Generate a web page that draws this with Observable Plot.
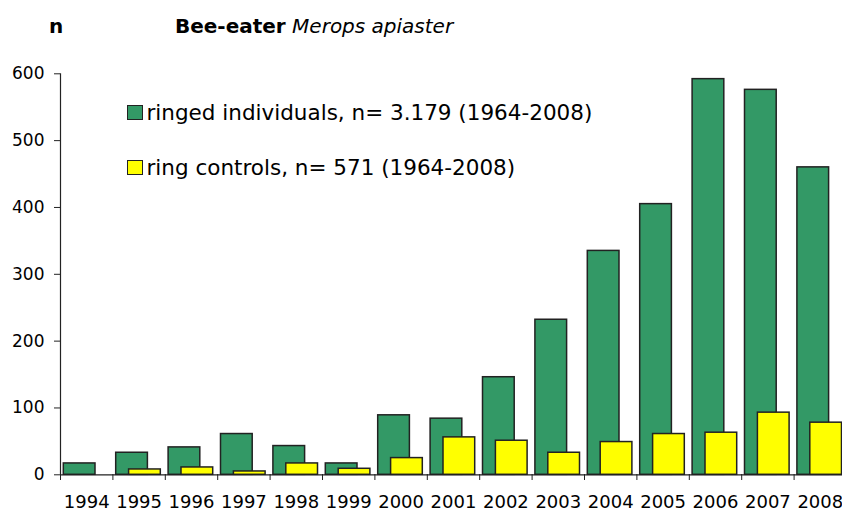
<!DOCTYPE html>
<html>
<head>
<meta charset="utf-8">
<script src="https://cdn.jsdelivr.net/npm/d3@7"></script>
<script src="https://cdn.jsdelivr.net/npm/@observablehq/plot@0.6"></script>
<style>
  html, body { margin: 0; padding: 0; background: #fff; }
  #wrap { position: relative; width: 842px; height: 513px; overflow: hidden; font-family: "DejaVu Sans", sans-serif; color: #000; }
  #chart { position: absolute; left: 0; top: 0; }
  .abs { position: absolute; white-space: nowrap; line-height: 1; }
  .sw { position: absolute; width: 14px; height: 13px; border: 1.2px solid #222; }
</style>
</head>
<body>
<div id="wrap">
  <div id="chart"></div>
  <div class="abs" style="left:49px; top:15.8px; font-size:20px; font-weight:bold;">n</div>
  <div class="abs" style="left:175px; top:15.8px; font-size:20px;"><b>Bee-eater</b> <i>Merops apiaster</i></div>
  <div class="sw" style="left:127.3px; top:105px; background:#339966;"></div>
  <div class="abs" style="left:146.5px; top:101.8px; font-size:21.5px;">ringed individuals, n= 3.179 (1964-2008)</div>
  <div class="sw" style="left:127.3px; top:160px; background:#ffff00;"></div>
  <div class="abs" style="left:146.5px; top:156.8px; font-size:21.5px;">ring controls, n= 571 (1964-2008)</div>
</div>
<script>
const years = [1994, 1995, 1996, 1997, 1998, 1999, 2000, 2001, 2002, 2003, 2004, 2005, 2006, 2007, 2008];
const ringed = [17, 33, 41, 61, 43, 17, 89, 84, 146, 232, 335, 405, 592, 576, 460];
const controls = [0, 8, 11, 5, 17, 9, 25, 56, 51, 33, 49, 61, 63, 93, 78];
const yTicks = [0, 100, 200, 300, 400, 500, 600];

const data = years.map((year, i) => ({year, ringed: ringed[i], controls: controls[i]}));
const boundaries = years.map(y => y - 0.5).concat([years[years.length - 1] + 0.5]);

const chart = Plot.plot({
  width: 842,
  height: 513,
  marginLeft: 60,
  marginRight: 0,
  marginTop: 73,
  marginBottom: 39,
  x: {type: "linear", domain: [years[0] - 0.5, years[years.length - 1] + 0.5], range: [60, 846]},
  y: {domain: [0, 600], range: [474.3, 73.3]},
  style: {fontFamily: "DejaVu Sans", color: "#000", background: "#fff", overflow: "visible"},
  marks: [
    Plot.rectY(data, {
      x1: d => d.year - 0.5, x2: d => d.year + 0.5, y: "ringed",
      fill: "#339966", stroke: "#222", strokeWidth: 1.5,
      insetLeft: 3.3, insetRight: 17.4
    }),
    Plot.rectY(data.filter(d => d.controls > 0), {
      x1: d => d.year - 0.5, x2: d => d.year + 0.5, y: "controls",
      fill: "#ffff00", stroke: "#222", strokeWidth: 1.5,
      insetLeft: 16.2, insetRight: 4.5
    }),
    Plot.ruleY([0], {stroke: "#222", strokeWidth: 1.2}),
    Plot.ruleX([years[0] - 0.5], {y1: 0, y2: 600, stroke: "#222", strokeWidth: 1.2}),
    Plot.axisY({ticks: yTicks, tickSize: 6, tickPadding: 10, fontSize: 17, label: null, stroke: "#222"}),
    Plot.axisX({ticks: boundaries, tickSize: 6, tickFormat: () => "", label: null, stroke: "#222"}),
    Plot.axisX({ticks: years, tickSize: 0, tickPadding: 21, fontSize: 18, tickFormat: d => String(d), label: null})
  ]
});
document.getElementById("chart").appendChild(chart);
</script>
</body>
</html>
